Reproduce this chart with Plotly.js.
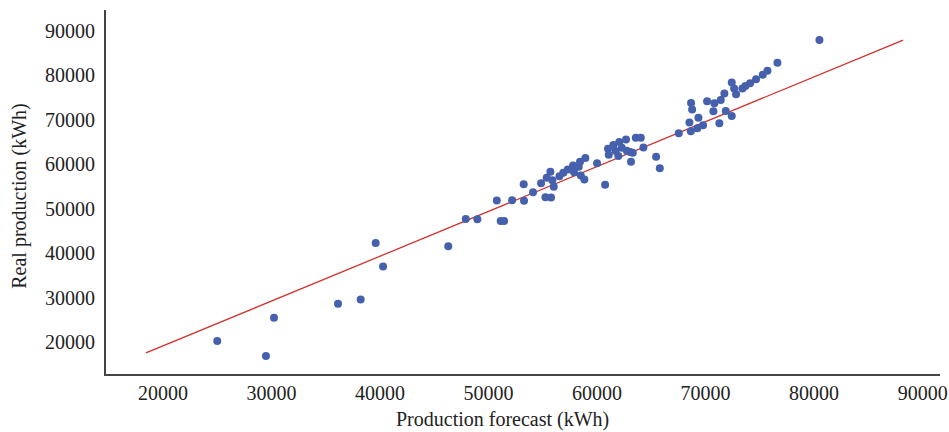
<!DOCTYPE html>
<html>
<head>
<meta charset="utf-8">
<script src="https://cdn.plot.ly/plotly-3.0.1.min.js"></script>
<style>html,body{margin:0;padding:0;background:#fff;}#chart{width:949px;height:432px;}</style>
</head>
<body>
<div id="chart"></div>
<script>
// Production forecast (kWh)
const forecast = [25000,29490,30230,36130,38220,39600,40280,46290,47900,48970,
  50760,51120,51430,52170,53240,53270,54100,54840,55240,55760,
  55360,55700,55880,56010,56530,56890,57300,57790,57880,58310,
  58430,58500,58830,58920,60000,60740,61010,61080,61500,62050,
  62280,61720,61960,62670,62740,63040,63290,63130,63570,64030,
  64270,65440,65780,67530,68640,68660,68760,68510,69340,69240,
  69770,70140,70720,70810,71270,71400,71730,71860,72410,72410,
  72630,72810,73390,73670,74100,74650,75270,75700,76620,80490];
// Real production (kWh)
const real = [20300,16910,25480,28630,29600,42310,37040,41550,47720,47630,
  51850,47270,47270,51910,55520,51780,53720,55750,52590,52520,
  56960,58310,56420,54930,57320,58090,58830,59730,58220,59440,
  60570,57480,56580,61380,60250,55380,63500,62150,64310,64990,
  63720,62960,61830,65590,63050,62730,62600,60570,65980,65980,
  63790,61690,59130,66950,67400,73780,72290,69360,70480,68070,
  68750,74160,71900,73710,69200,74450,75890,71970,78370,70840,
  77020,75740,77020,77610,78210,79120,80090,80990,82790,87910];
// Fitted line endpoints
const fitX = [18430, 88200];
const fitY = [17590, 87910];

const xTicks = [20000,30000,40000,50000,60000,70000,80000,90000];
const yTicks = [20000,30000,40000,50000,60000,70000,80000,90000];

const font = 'Liberation Serif, Times New Roman, serif';

const traces = [
  {x: fitX, y: fitY, type: 'scatter', mode: 'lines',
   line: {color: '#d0312d', width: 1.3}, hoverinfo: 'skip'},
  {x: forecast, y: real, type: 'scatter', mode: 'markers',
   marker: {color: '#4561ad', size: 8, line: {width: 0}}}
];

const layout = {
  width: 949, height: 432,
  margin: {l: 106, r: 9, t: 10, b: 58},
  paper_bgcolor: '#fff', plot_bgcolor: '#fff',
  showlegend: false,
  font: {family: font, size: 20, color: '#222'},
  xaxis: {range: [14750, 91600], tickvals: xTicks, ticktext: xTicks.map(String),
    showgrid: false, zeroline: false, showline: true, linecolor: '#444', linewidth: 2,
    ticks: '', ticklabelstandoff: 0, tickfont: {family: font, size: 20, color: '#222'}},
  yaxis: {range: [12860, 94670], tickvals: yTicks, ticktext: yTicks.map(String),
    showgrid: false, zeroline: false, showline: true, linecolor: '#444', linewidth: 2,
    ticks: '', ticklabelstandoff: 5, tickfont: {family: font, size: 20, color: '#222'}},
  annotations: [
    {text: 'Production forecast (kWh)', xref: 'paper', yref: 'paper',
     x: 0.476, y: -0.124, xanchor: 'center', yanchor: 'middle', showarrow: false,
     font: {family: font, size: 20, color: '#222'}},
    {text: 'Real production (kWh)', xref: 'paper', yref: 'paper',
     x: -0.103, y: 0.49, xanchor: 'center', yanchor: 'middle', textangle: -90, showarrow: false,
     font: {family: font, size: 20, color: '#222'}}
  ]
};

Plotly.newPlot('chart', traces, layout, {displayModeBar: false, staticPlot: true});
</script>
</body>
</html>
